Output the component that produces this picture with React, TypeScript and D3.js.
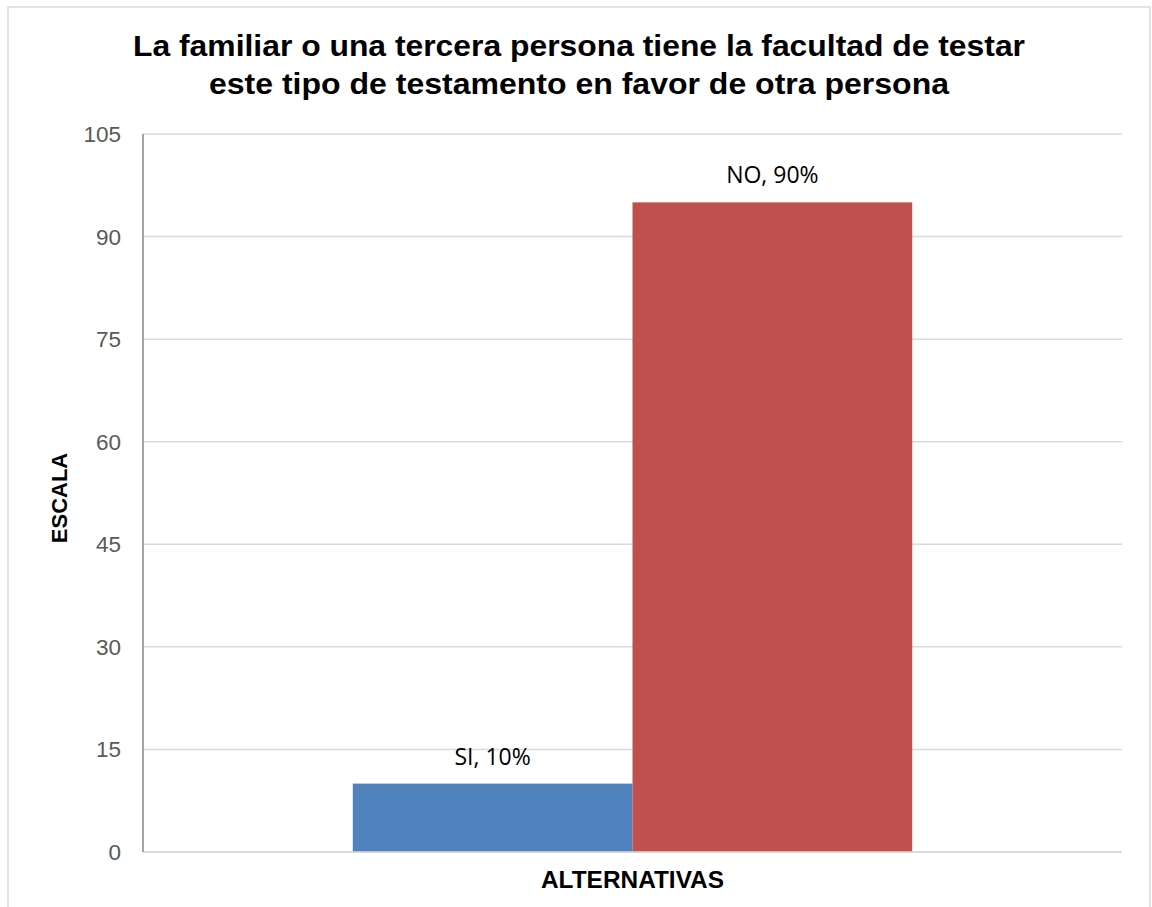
import React from "react";
import * as d3 from "d3";

const TITLE_LINES = [
  "La familiar o una tercera persona tiene la facultad de testar",
  "este tipo de testamento en favor de otra persona",
];
const TITLE_WIDTHS = [892, 740];
const CATEGORIES = ["ALTERNATIVAS"];
const SERIES = ["SI", "NO"];
const VALUES = [10, 95];
const LABELS = ["SI, 10%", "NO, 90%"];
const Y_TICKS = [0, 15, 30, 45, 60, 75, 90, 105];

const W = 1152;
const H = 907;
const PLOT = { left: 143, right: 1122, top: 134, bottom: 852 };
const COLORS = ["#4f81bd", "#c0504d"];

export default function App() {
  const y = d3.scaleLinear().domain([0, 105]).range([PLOT.bottom, PLOT.top]);
  const x0 = d3
    .scaleBand()
    .domain(CATEGORIES)
    .range([PLOT.left, PLOT.right])
    .paddingInner(0)
    .paddingOuter(0.375);
  const x1 = d3.scaleBand().domain(SERIES).range([0, x0.bandwidth()]);

  const cat = CATEGORIES[0];
  const gx = x0(cat) ?? 0;

  return (
    <svg
      width={W}
      height={H}
      style={{ position: "absolute", left: 0, top: 0, display: "block", background: "#fff" }}
    >
      {/* chart border */}
      <rect x={8} y={7} width={1142} height={H + 10} fill="#fff" stroke="#d9d9d9" strokeWidth={1.5} />

      {/* title */}
      {TITLE_LINES.map((t, i) => (
        <text
          key={i}
          x={579 - TITLE_WIDTHS[i] / 2}
          y={56 + i * 38}
          textLength={TITLE_WIDTHS[i]}
          lengthAdjust="spacingAndGlyphs"
          fontFamily="'Liberation Sans', Arial, sans-serif"
          fontWeight="bold"
          fontSize={30}
          fill="#000"
        >
          {t}
        </text>
      ))}

      {/* gridlines + tick labels */}
      {Y_TICKS.map((t) => (
        <g key={t}>
          <line
            x1={PLOT.left}
            x2={PLOT.right}
            y1={y(t)}
            y2={y(t)}
            stroke="#d9d9d9"
            strokeWidth={1.5}
          />
          <text
            x={121}
            y={y(t) + 8}
            textAnchor="end"
            fontFamily="'Liberation Sans', Arial, sans-serif"
            fontSize={22.5}
            fill="#595959"
          >
            {t}
          </text>
        </g>
      ))}

      {/* bars */}
      {SERIES.map((s, i) => {
        const bx = gx + (x1(s) ?? 0);
        return (
          <g key={s}>
            <rect
              x={bx}
              y={y(VALUES[i])}
              width={x1.bandwidth()}
              height={y(0) - y(VALUES[i])}
              fill={COLORS[i]}
            />
            <text
              x={bx + x1.bandwidth() / 2}
              y={y(VALUES[i]) - 19}
              textAnchor="middle"
              fontFamily="'Open Sans', sans-serif"
              fontSize={23}
              fill="#000"
            >
              {LABELS[i]}
            </text>
          </g>
        );
      })}

      {/* axes */}
      <line x1={PLOT.left} x2={PLOT.right} y1={y(0)} y2={y(0)} stroke="#d9d9d9" strokeWidth={1.5} />
      <line x1={PLOT.left} x2={PLOT.left} y1={PLOT.top} y2={PLOT.bottom} stroke="#868686" strokeWidth={1.5} />

      {/* axis titles */}
      <text
        x={gx + x0.bandwidth() / 2 - 91.5}
        y={888}
        textLength={183}
        lengthAdjust="spacingAndGlyphs"
        fontFamily="'Liberation Sans', Arial, sans-serif"
        fontWeight="bold"
        fontSize={23.5}
        fill="#000"
      >
        {cat}
      </text>
      <text
        transform={`translate(67,498) rotate(-90)`}
        textAnchor="middle"
        fontFamily="'Liberation Sans', Arial, sans-serif"
        fontWeight="bold"
        fontSize={22}
        fill="#000"
      >
        ESCALA
      </text>
    </svg>
  );
}
